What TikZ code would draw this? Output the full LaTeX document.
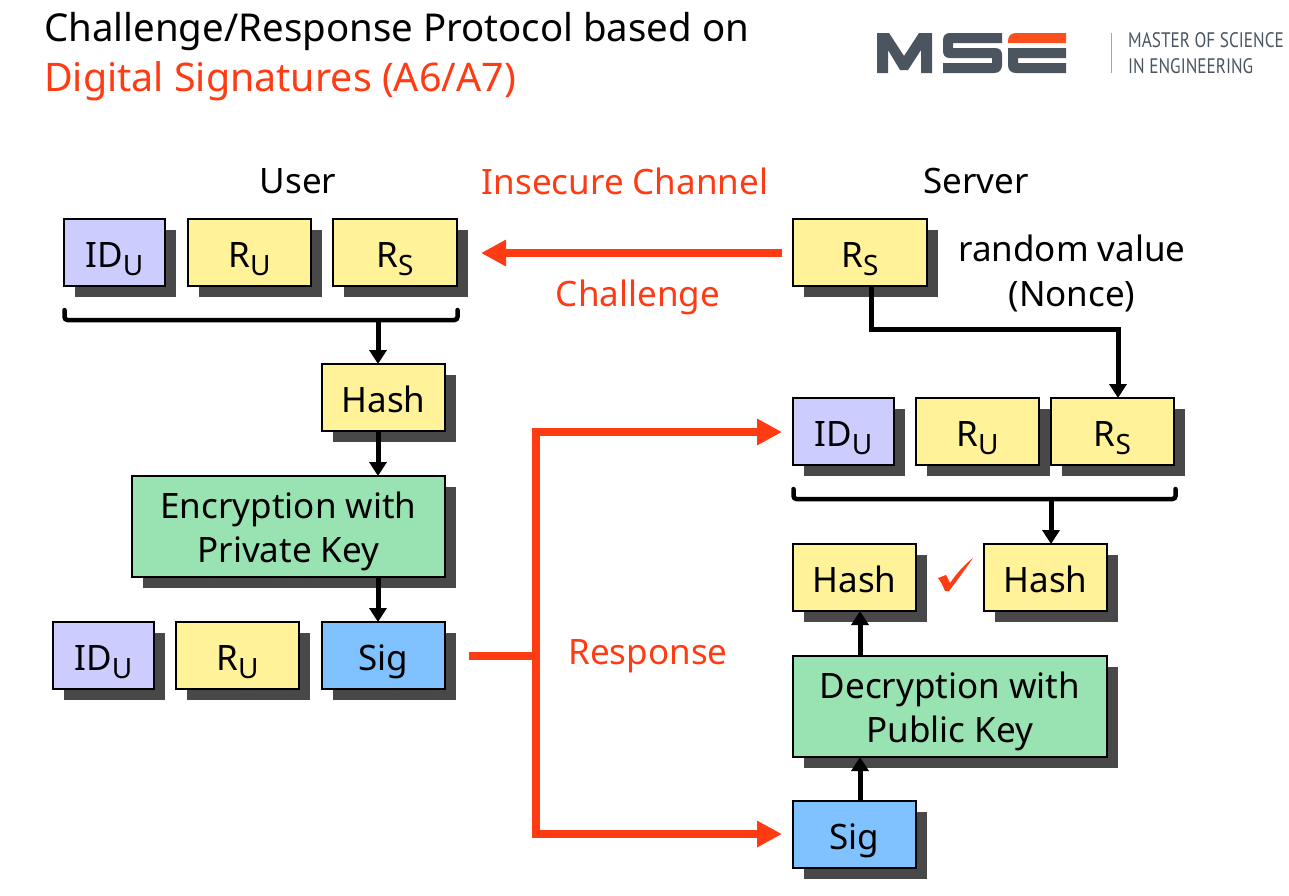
\documentclass[tikz,border=0pt]{standalone}
\usepackage{fontspec}
\setmainfont{Noto Sans}
\newfontfamily\logofont[FakeStretch=0.82]{PT Sans}
\usetikzlibrary{shadows,arrows.meta,calc}
\definecolor{boxyellow}{HTML}{FFF299}
\definecolor{boxlilac}{HTML}{CCCCFF}
\definecolor{boxgreen}{HTML}{99E3B3}
\definecolor{boxblue}{HTML}{80C1FF}
\definecolor{shadowgray}{HTML}{484848}
\definecolor{redline}{HTML}{FF3B14}
\definecolor{logogray}{HTML}{4A5560}
\definecolor{logored}{HTML}{F9501E}
\newcommand{\subs}[1]{\raisebox{-8pt}{\fontsize{28}{28}\selectfont #1}}
\newcommand{\toprule}{\rule{0pt}{36pt}}
\tikzset{
  x=1pt,y=-1pt,
  box/.style={draw=black,line width=1.5pt,rectangle,inner sep=0pt,outer sep=0pt,anchor=north west,
     align=center,font=\fontsize{35}{44}\selectfont,
     general shadow={fill=shadowgray,shadow xshift=11pt,shadow yshift=-11pt}},
  one/.style={minimum height=67pt,text height=48pt,text depth=19pt},
  ybox/.style={box,one,fill=boxyellow},
  lbox/.style={box,one,fill=boxlilac},
  gbox/.style={box,fill=boxgreen,minimum height=101pt},
  bbox/.style={box,one,fill=boxblue},
  lbl/.style={font=\fontsize{35}{44}\selectfont,inner sep=0pt},
  rlbl/.style={lbl,text=redline},
  ttl/.style={font=\fontsize{38.4}{44}\selectfont,inner sep=0pt,anchor=base west},
  blk/.style={line width=5pt,black,-{Triangle[length=14pt,width=17pt]}},
  brk/.style={line width=4.5pt,black,rounded corners=3pt,line cap=round},
  red/.style={line width=8pt,redline},
  redarrow/.style={red,-{Triangle[length=25pt,width=25pt]}},
  lg/.style={fill=logogray,draw=none},
  lgtext/.style={font=\logofont\fontsize{21}{21}\selectfont,text=logogray,inner sep=0pt,anchor=base west},
}
\begin{document}
\begin{tikzpicture}
\useasboundingbox (0,0) rectangle (1289,895);
% title
\node[ttl] (t1) at (44,41) {Challenge/Response Protocol based on};
\node[ttl,text=redline,font=\fontsize{39.4}{44}\selectfont] (t2) at (44,91) {Digital Signatures (A6/A7)};
% logo
\fill[lg] (877,33) -- (889,33) -- (904,56) -- (919,33) -- (932,33) -- (932,73) -- (921,73) -- (921,50) -- (908,70) -- (900,70) -- (888,50) -- (888,73) -- (877,73) -- cycle;
\fill[lg] (950,33) -- (1002,33) -- (1002,43) -- (953,43) -- (953,48) -- (995,48) .. controls (1000,48) and (1002,51) .. (1002,55) -- (1002,65) .. controls (1002,70) and (999,73) .. (994,73) -- (943,73) -- (943,63) -- (992,63) -- (992,58) -- (950,58) .. controls (945,58) and (943,55) .. (943,51) -- (943,41) .. controls (943,36) and (945,33) .. (950,33) -- cycle;
\fill[logored] (1016,33) -- (1066,33) -- (1066,43) -- (1008,43) -- (1008,41) .. controls (1008,36) and (1011,33) .. (1016,33) -- cycle;
\fill[lg] (1008,48) -- (1066,48) -- (1066,58) -- (1018,58) -- (1018,63) -- (1066,63) -- (1066,73) -- (1016,73) .. controls (1011,73) and (1008,70) .. (1008,65) -- cycle;
\fill[gray!70] (1110.5,33) rectangle (1111.5,73);
\node[lgtext] (m1) at (1128,47) {MASTER OF SCIENCE};
\node[lgtext] (m2) at (1128,73) {IN ENGINEERING};
% labels
\node[lbl] (user) at (298,181) {User};
\node[rlbl] (chan) at (625,181) {Insecure Channel};
\node[lbl] (server) at (976,181) {Server};
\node[rlbl] (chal) at (638,297) {Challenge};
\node[lbl] (rnd) at (1072,248) {random value};
\node[lbl] (nonce) at (1072,297) {(Nonce)};
\node[rlbl] (resp) at (648,656) {Response};
% user boxes
\node[lbox,minimum width=101pt] (idu) at (64,219) {ID\subs{U}};
\node[ybox,minimum width=123pt] (ru) at (188,219) {R\subs{U}};
\node[ybox,minimum width=124pt] (rs) at (333,219) {R\subs{S}};
\node[ybox,minimum width=123pt] (hashu) at (322,364) {Hash};
\node[gbox,minimum width=313pt] (enc) at (132,476) {\toprule Encryption with\\Private Key};
\node[lbox,minimum width=101pt] (idu2) at (53,622) {ID\subs{U}};
\node[ybox,minimum width=123pt] (ru2) at (176,622) {R\subs{U}};
\node[bbox,minimum width=123pt] (sigu) at (322,622) {Sig};
% server boxes
\node[ybox,minimum width=134pt] (rss) at (793,219) {R\subs{S}};
\node[lbox,minimum width=101pt] (ids2) at (793,398) {ID\subs{U}};
\node[ybox,minimum width=123pt] (rus2) at (916,398) {R\subs{U}};
\node[ybox,minimum width=123pt] (rss2) at (1051,398) {R\subs{S}};
\node[ybox,minimum width=123pt] (hasha) at (793,544) {Hash};
\node[ybox,minimum width=123pt] (hashb) at (984,544) {Hash};
\node[gbox,minimum width=314pt] (dec) at (793,656) {\toprule Decryption with\\Public Key};
\node[bbox,minimum width=123pt] (sigs) at (793,801) {Sig};
% check mark
\fill[redline] (938,578) -- (946,575) -- (950,583) .. controls (957,573) and (965,564) .. (973,558) .. controls (966,568) and (956,582) .. (949,591) -- (945,591) .. controls (943,586) and (941,582) .. (938,578) -- cycle;
% brackets
\coordinate (bl1) at (64.5,310); \coordinate (bl2) at (64.5,320);
\coordinate (bl3) at (457.5,320); \coordinate (bl4) at (457.5,310);
\coordinate (bm) at (378,320);
\draw[brk] (bl1) -- (bl2) -- (bl3) -- (bl4);
\coordinate (br1) at (793.5,489); \coordinate (br2) at (793.5,499);
\coordinate (br3) at (1175.5,499); \coordinate (br4) at (1175.5,489);
\coordinate (bn) at (1051,499);
\draw[brk] (br1) -- (br2) -- (br3) -- (br4);
% black connectors
\draw[blk] (bm) -- (bm |- hashu.north);
\draw[blk] (bm |- hashu.south) -- (bm |- enc.north);
\draw[blk] (bm |- enc.south) -- (bm |- sigu.north);
\coordinate (rsd) at (871,329);
\coordinate (rsr) at (1118,329);
\draw[blk] (rsd |- rss.south) -- (rsd) -- (rsr) -- (rsr |- rss2.north);
\draw[blk] (bn) -- (bn |- hashb.north);
\coordinate (up) at (860,700);
\draw[blk] (up |- dec.north) -- (up |- hasha.south);
\draw[blk] (up |- sigs.north) -- (up |- dec.south);
% red connectors
\coordinate (rch) at (481,253);
\draw[redarrow,shorten <=11pt] (rss.west |- rch) -- (rch);
\coordinate (rj) at (535.5,656);
\coordinate (rt) at (535.5,432);
\coordinate (rb) at (535.5,834);
\coordinate (rs0) at (469,656);
\draw[red] (rs0) -- (rj);
\draw[redarrow,line join=miter,shorten >=11pt] (rj) -- (rt) -- (ids2.west |- rt);
\draw[redarrow,line join=miter,shorten >=11pt] (rj) -- (rb) -- (sigs.west |- rb);
\end{tikzpicture}
\end{document}
